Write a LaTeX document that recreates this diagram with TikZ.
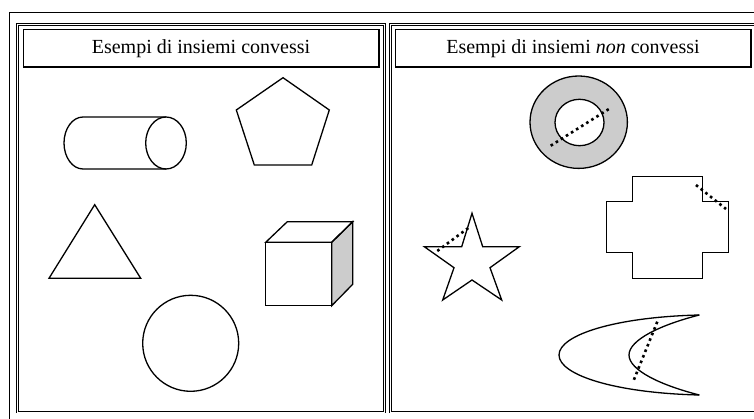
\documentclass[tikz,border=0pt]{standalone}
\usepackage{fontspec}
\setmainfont{Liberation Serif}
\begin{document}
\begin{tikzpicture}[x=1pt,y=-1pt,
  figline/.style={draw=black,line width=1.3pt,line join=miter},
  panel/.style={draw=black,double=white,line width=0.9pt,double distance=0.9pt},
  titlebox/.style={draw=black,line width=1.3pt},
  titletext/.style={font=\fontsize{20}{24}\selectfont,inner sep=0pt},
  dotline/.style={draw=black,line width=2.6pt,dash pattern=on 2.6pt off 3.4pt},
  shadefill/.style={fill=black!20}]
\useasboundingbox (0,0) rectangle (754,419);
\clip (0,0) rectangle (754,419);
% outer frame
\draw[line width=1.3pt] (9.5,430) -- (9.5,12.3) -- (770,12.3);
% panels
\draw[panel] (17.5,24.5) rectangle (384.5,412);
\draw[panel] (390.5,24.5) rectangle (770,412);
% title boxes
\draw[titlebox] (23.5,29.5) rectangle (379,67);
\draw[titlebox] (395.5,29.5) rectangle (751,67);
\node[titletext] (t1) at (201,48.5) {Esempi di insiemi convessi};
\node[titletext] (t2) at (573,48.5) {Esempi di insiemi \textit{non} convessi};
% cylinder
\draw[figline] (166,117) -- (83,117) arc[start angle=270,end angle=90,x radius=19,y radius=26] -- (166,169);
\draw[figline] (166,143) ellipse[x radius=20.3,y radius=26];
% pentagon
\draw[figline] (283,77.7) -- (329.3,110) -- (311.7,165) -- (254.3,165) -- (236.3,110) -- cycle;
% triangle
\draw[figline] (94.7,204.7) -- (140.7,278.3) -- (49,278.3) -- cycle;
% cube
\draw[figline,shadefill] (331.7,242.3) -- (352.7,221.7) -- (352.7,284.3) -- (331.7,305.7) -- cycle;
\draw[figline] (265.7,242.3) -- (287.3,221.7) -- (352.7,221.7) -- (331.7,242.3) -- cycle;
\draw[figline] (265.7,242.3) rectangle (331.7,305.7);
% circle
\draw[figline] (190.7,343.3) circle[radius=48];
% annulus
\draw[figline,shadefill,even odd rule] (578.7,122.2) ellipse[x radius=48.7,y radius=46.2] (579.5,122.5) ellipse[x radius=24.5,y radius=23.2];
\draw[dotline] (550.7,145.7) -- (610,108.3);
% cross
\draw[figline] (632.3,176.7) -- (702.7,176.7) -- (702.7,201.7) -- (728.7,201.7) -- (728.7,252.7) -- (702.7,252.7) -- (702.7,278.3) -- (632.3,278.3) -- (632.3,252.7) -- (606.7,252.7) -- (606.7,201.7) -- (632.3,201.7) -- cycle;
\draw[dotline] (696,185) -- (726,209);
% star
\draw[figline] (472,213.3) -- (482.7,246.7) -- (519.3,246.7) -- (490,267.7) -- (501.7,300) -- (472,280) -- (442.7,300) -- (454,267.7) -- (424.3,246.7) -- (461.7,246.7) -- cycle;
\draw[dotline] (437.3,251) -- (470,226.7);
% crescent
\draw[figline] (699.3,315) .. controls (615,317) and (559,335) .. (559,355) .. controls (559,375) and (615,393) .. (699.3,395);
\draw[figline] (699.3,315) .. controls (660,325) and (629,340) .. (629,355) .. controls (629,370) and (660,385) .. (699.3,395);
\draw[dotline] (657.3,321.7) -- (632.7,382.7);
\end{tikzpicture}
\end{document}
